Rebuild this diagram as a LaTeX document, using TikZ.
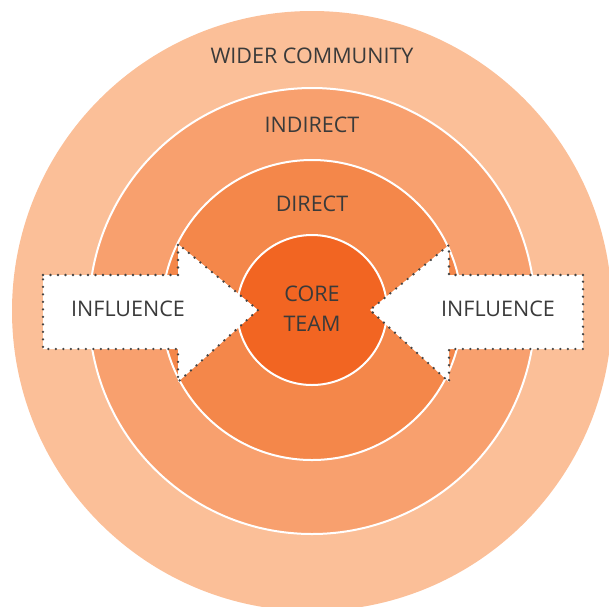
\documentclass[tikz,border=0pt]{standalone}
\usepackage{fontspec}
\setmainfont{Open Sans}
\begin{document}
\begin{tikzpicture}[x=1pt,y=-1pt,
  ring/.style={circle,draw=white,line width=2pt,inner sep=0pt,minimum size=#1},
  lbl/.style={text=txtgray,font=\fontsize{21.5}{30}\selectfont,inner sep=0pt,anchor=center},
  arrowbox/.style={fill=white,draw=dotgray,line width=2.6pt,line cap=round,dash pattern=on 0pt off 7.5pt}]
\definecolor{c1}{HTML}{FBBF98}
\definecolor{c2}{HTML}{F8A06E}
\definecolor{c3}{HTML}{F4874A}
\definecolor{c4}{HTML}{F26522}
\definecolor{txtgray}{HTML}{3A3A3A}
\definecolor{dotgray}{HTML}{444444}
\useasboundingbox (0,0) rectangle (609,606);
\begin{scope}
\clip (0,0) rectangle (609,606);
\node[circle,fill=c1,inner sep=0pt,minimum size=600pt] (outer) at (312,311) {};
\end{scope}
\node[ring=446pt,fill=c2] (indirect) at (312,311) {};
\node[ring=300pt,fill=c3] (direct) at (312,310) {};
\node[ring=150pt,fill=c4] (core) at (312,310) {};
\draw[arrowbox] (43,275) -- (178,275) -- (178,244) -- (258,310) -- (178,382) -- (178,349) -- (43,349) -- cycle;
\draw[arrowbox] (583,275) -- (449,275) -- (449,245) -- (370,310) -- (449,382) -- (449,349) -- (583,349) -- cycle;
\node[lbl] (wl) at (312,56) {WIDER COMMUNITY};
\node[lbl] (il) at (312,125) {INDIRECT};
\node[lbl] (dl) at (312,204) {DIRECT};
\node[lbl,align=center] (cl) at (312,309) {CORE\\TEAM};
\node[lbl] (inf1) at (128,309) {INFLUENCE};
\node[lbl] (inf2) at (498,309) {INFLUENCE};
\end{tikzpicture}
\end{document}
